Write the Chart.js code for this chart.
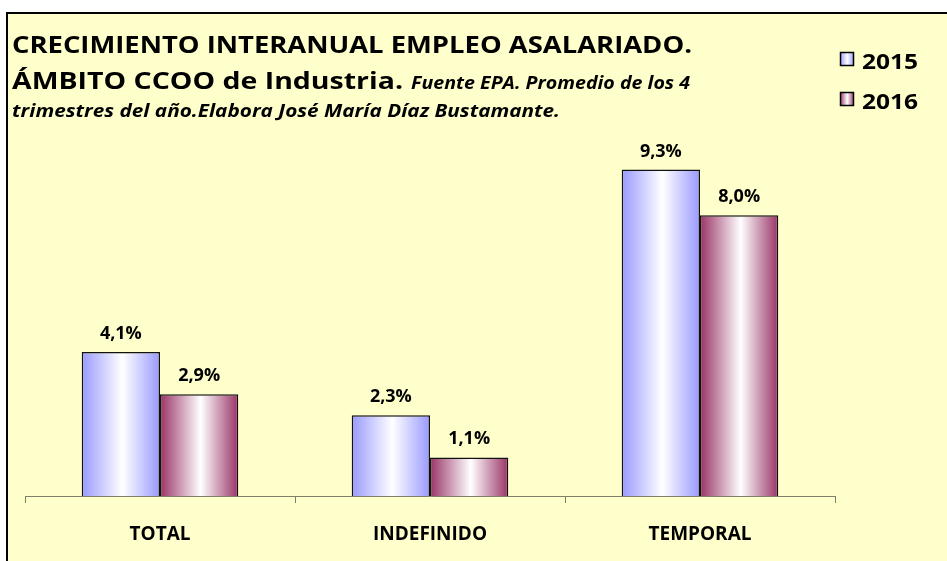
<!DOCTYPE html>
<html>
<head>
<meta charset="utf-8">
<script src="https://cdn.jsdelivr.net/npm/chart.js@4"></script>
<style>
  body { margin: 0; background: #fff; }
  canvas { display: block; }
</style>
</head>
<body>
<canvas id="Empleo" width="947" height="561"></canvas>
<script>
// datos
var categorias = ['TOTAL', 'INDEFINIDO', 'TEMPORAL'];
var anios = ['2015', '2016'];
var valores2015 = [4.1, 2.3, 9.3];
var valores2016 = [2.9, 1.1, 8.0];

var colores = ['#9999FF', '#993366'];
var FONT = '"Open Sans"';

function formato(v) {
    return v.toFixed(1).replace('.', ',') + '%';
}

// degradado horizontal tipo Excel para cada barra
function degradado(color, i) {
    return function (c) {
        var chart = c.chart;
        var xs = chart.scales.x;
        if (!xs || c.dataIndex === undefined || !xs.width) return color;
        var centro = xs.getPixelForValue(c.dataIndex);
        var w = xs.width / categorias.length * 0.58 / 2;
        var x0 = i === 0 ? centro - w : centro;
        var g = chart.ctx.createLinearGradient(x0, 0, x0 + w, 0);
        g.addColorStop(0, color);
        g.addColorStop(0.52, '#ffffff');
        g.addColorStop(1, color);
        return g;
    };
}

// texto estrechado para ocupar el mismo ancho que en el original (Calibri)
function textoAjustado(ctx, texto, fuente, x, y, ancho) {
    ctx.font = fuente;
    var m = ctx.measureText(texto).width;
    ctx.save();
    ctx.translate(x, y);
    ctx.scale(ancho / m, 1);
    ctx.fillText(texto, 0, 0);
    ctx.restore();
}

var fondo = {
    id: 'fondo',
    beforeDraw: function (chart) {
        var ctx = chart.ctx;
        ctx.save();
        ctx.fillStyle = '#FFFFCC';
        ctx.fillRect(6, 12, chart.width - 6, chart.height - 12);
        ctx.strokeStyle = '#000';
        ctx.lineWidth = 2;
        ctx.beginPath();
        ctx.moveTo(7, chart.height);
        ctx.lineTo(7, 13);
        ctx.lineTo(chart.width, 13);
        ctx.stroke();

        // titulo
        ctx.fillStyle = '#000';
        ctx.textBaseline = 'alphabetic';
        ctx.textAlign = 'left';
        textoAjustado(ctx, 'CRECIMIENTO INTERANUAL EMPLEO ASALARIADO.', 'bold 24px ' + FONT, 12, 53, 680);
        textoAjustado(ctx, 'ÁMBITO CCOO de Industria.', 'bold 24px ' + FONT, 12, 89, 391);
        textoAjustado(ctx, 'Fuente EPA. Promedio de los 4', 'italic bold 17px ' + FONT, 411, 89, 279);
        textoAjustado(ctx, 'trimestres del año.Elabora José María Díaz Bustamante.', 'italic bold 17px ' + FONT, 12, 117, 548);

        // leyenda
        chart.data.datasets.forEach(function (ds, i) {
            var y = 52 + i * 40;
            var g = ctx.createLinearGradient(840, 0, 854, 0);
            g.addColorStop(0, colores[i]);
            g.addColorStop(0.52, '#ffffff');
            g.addColorStop(1, colores[i]);
            ctx.fillStyle = g;
            ctx.fillRect(840, y, 14, 14);
            ctx.lineWidth = 1.5;
            ctx.strokeStyle = '#000';
            ctx.strokeRect(840.5, y + 0.5, 13, 13);
            ctx.fillStyle = '#000';
            textoAjustado(ctx, ds.label, 'bold 21px ' + FONT, 862, y + 16.5, 56);
        });
        ctx.restore();
    }
};

var etiquetas = {
    id: 'etiquetas',
    afterDatasetsDraw: function (chart) {
        var ctx = chart.ctx;
        ctx.save();
        ctx.font = 'bold 18px ' + FONT;
        ctx.fillStyle = '#000';
        ctx.textAlign = 'center';
        ctx.textBaseline = 'alphabetic';
        chart.data.datasets.forEach(function (ds, i) {
            chart.getDatasetMeta(i).data.forEach(function (bar, j) {
                ctx.fillText(formato(ds.data[j]), bar.x, bar.y - 13);
            });
        });
        ctx.restore();
    }
};

var ctx = document.getElementById('Empleo').getContext('2d');
var chart = new Chart(ctx, {
    type: 'bar',
    data: {
        labels: categorias,
        datasets: [{
            label: anios[0],
            data: valores2015,
            backgroundColor: degradado(colores[0], 0),
            borderColor: '#111',
            borderWidth: 1.5
        }, {
            label: anios[1],
            data: valores2016,
            backgroundColor: degradado(colores[1], 1),
            borderColor: '#111',
            borderWidth: 1.5
        }]
    },
    options: {
        responsive: false,
        animation: false,
        layout: { padding: { left: 25, right: 112, top: 145, bottom: 0 } },
        datasets: { bar: { categoryPercentage: 0.58, barPercentage: 1 } },
        plugins: {
            legend: { display: false },
            tooltip: { enabled: false }
        },
        scales: {
            x: {
                offset: true,
                grid: { drawOnChartArea: false, tickLength: 7, color: '#7f7f6a', offset: true },
                border: { display: true, color: '#7f7f6a' },
                ticks: { padding: 20, color: '#000', font: { family: FONT, weight: 'bold', size: 19 } },
                afterFit: function (s) { s.height = 65; }
            },
            y: { display: false, min: 0, max: 10 }
        }
    },
    plugins: [fondo, etiquetas]
});
</script>
</body>
</html>
